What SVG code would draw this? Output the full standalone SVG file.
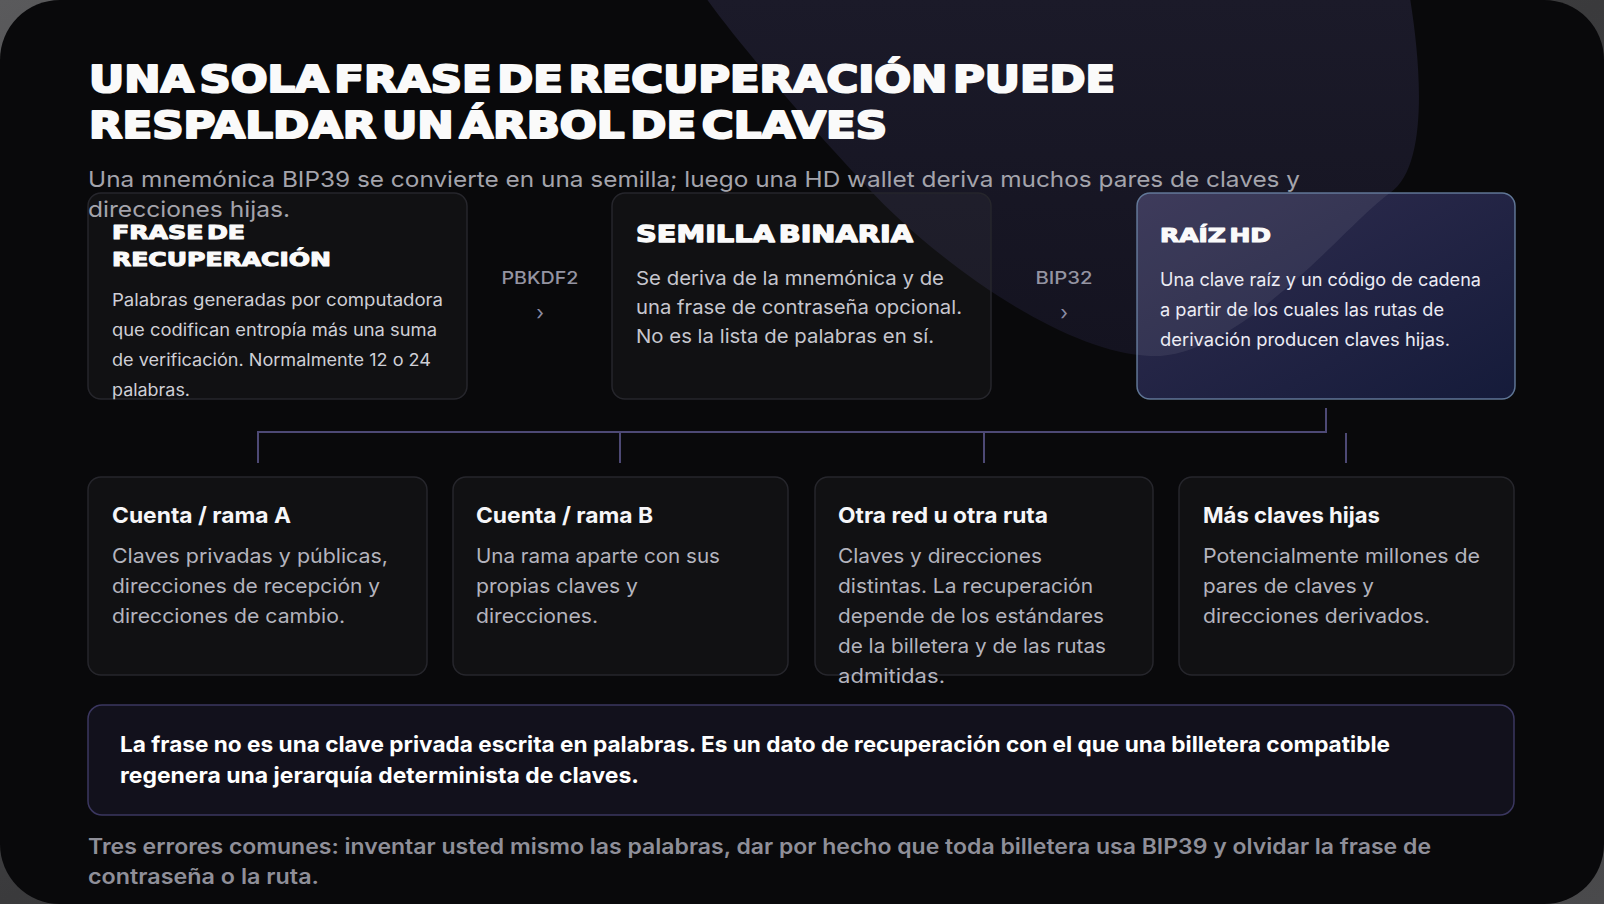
<svg xmlns="http://www.w3.org/2000/svg" width="1604" height="904" viewBox="0 0 1604 904">
<defs>
<style>
.disp{font-family:"DejaVu Sans","Liberation Sans",sans-serif;font-weight:700;fill:#fafafa;stroke:#fafafa;stroke-linejoin:round}
.sans{font-family:Inter,"Noto Sans","Liberation Sans",sans-serif}
.card{fill:#ffffff;fill-opacity:0.035;stroke:#26262c;stroke-width:1.5}
.body1{font-size:17px;fill:#cfcfd6}
.body2{font-size:19px;fill:#c6c6ce}
.body3{font-size:18px;fill:#ececf4}
.rtitle{font-size:22px;font-weight:700;fill:#f6f6f8}
.rbody{font-size:20px;fill:#b4b4be}
.lbl{font-size:17px;font-weight:500;fill:#9494a2}
.chev{font-size:20px;fill:#8c8ca4}
.conn{fill:none;stroke:#4d4975;stroke-width:2}
</style>
<linearGradient id="blob" x1="0" y1="0" x2="0" y2="1">
<stop offset="0" stop-color="#1b1a29"/>
<stop offset="1" stop-color="#141320"/>
</linearGradient>
<linearGradient id="hd" x1="0" y1="0" x2="1" y2="1">
<stop offset="0" stop-color="#302d4f"/>
<stop offset="1" stop-color="#151b3a"/>
</linearGradient>
<linearGradient id="corner" x1="0" y1="0" x2="1" y2="1">
<stop offset="0" stop-color="#5a5a5c"/>
<stop offset="0.5" stop-color="#3a3a3c"/>
<stop offset="1" stop-color="#4a4a4c"/>
</linearGradient>
<clipPath id="hdclip"><rect x="1137" y="193" width="378" height="206" rx="13"/></clipPath>
<path id="blobpath" d="M706,-2 C740,45 800,115 867,187 C934,259 1060,352 1150,356 C1240,360 1350,220 1390,193 C1430,166 1420,60 1410,-2 Z"/>
</defs>

<rect width="1604" height="904" fill="url(#corner)"/>
<rect x="0" y="0" width="1604" height="904" rx="60" fill="#09090b"/>
<use href="#blobpath" fill="url(#blob)"/>

<g id="title">
<text class="disp" x="89" y="92" font-size="37" stroke-width="2.2" word-spacing="-8" textLength="1026" lengthAdjust="spacingAndGlyphs">UNA SOLA FRASE DE RECUPERACIÓN PUEDE</text>
<text class="disp" x="89" y="138" font-size="37" stroke-width="2.2" word-spacing="-8" textLength="798" lengthAdjust="spacingAndGlyphs">RESPALDAR UN ÁRBOL DE CLAVES</text>
</g>

<g id="node-frase">
<rect class="card" x="88" y="193" width="379" height="206" rx="13"/>
<text class="disp" x="112" y="239" font-size="19" stroke-width="1.1" word-spacing="-4" textLength="133" lengthAdjust="spacingAndGlyphs">FRASE DE</text>
<text class="disp" x="112" y="266" font-size="19" stroke-width="1.1" textLength="219" lengthAdjust="spacingAndGlyphs">RECUPERACIÓN</text>
<g class="sans body1">
<text x="112" y="306" textLength="331" lengthAdjust="spacingAndGlyphs">Palabras generadas por computadora</text>
<text x="112" y="336" textLength="325" lengthAdjust="spacingAndGlyphs">que codifican entropía más una suma</text>
<text x="112" y="366" textLength="319" lengthAdjust="spacingAndGlyphs">de verificación. Normalmente 12 o 24</text>
<text x="112" y="396" textLength="78" lengthAdjust="spacingAndGlyphs">palabras.</text>
</g>
</g>

<g id="node-semilla">
<rect class="card" x="612" y="193" width="379" height="206" rx="13"/>
<text class="disp" x="636" y="242" font-size="23" stroke-width="1.3" word-spacing="-5" textLength="277" lengthAdjust="spacingAndGlyphs">SEMILLA BINARIA</text>
<g class="sans body2">
<text x="636" y="285" textLength="308" lengthAdjust="spacingAndGlyphs">Se deriva de la mnemónica y de</text>
<text x="636" y="314" textLength="326" lengthAdjust="spacingAndGlyphs">una frase de contraseña opcional.</text>
<text x="636" y="343" textLength="298" lengthAdjust="spacingAndGlyphs">No es la lista de palabras en sí.</text>
</g>
</g>

<g id="node-raiz">
<rect x="1137" y="193" width="378" height="206" rx="13" fill="url(#hd)"/>
<use href="#blobpath" clip-path="url(#hdclip)" fill="#ffffff" fill-opacity="0.07"/>
<rect x="1137" y="193" width="378" height="206" rx="13" fill="none" stroke="#6c86a8" stroke-opacity="0.85" stroke-width="1.5"/>
<text class="disp" x="1160" y="242" font-size="19" stroke-width="1.1" word-spacing="-4" textLength="111" lengthAdjust="spacingAndGlyphs">RAÍZ HD</text>
<g class="sans body3">
<text x="1160" y="286" textLength="321" lengthAdjust="spacingAndGlyphs">Una clave raíz y un código de cadena</text>
<text x="1160" y="316" textLength="284" lengthAdjust="spacingAndGlyphs">a partir de los cuales las rutas de</text>
<text x="1160" y="346" textLength="290" lengthAdjust="spacingAndGlyphs">derivación producen claves hijas.</text>
</g>
</g>

<g id="connectors">
<g class="sans" text-anchor="middle">
<text class="lbl" x="540" y="284" textLength="77" lengthAdjust="spacingAndGlyphs">PBKDF2</text>
<text class="chev" x="540" y="320">›</text>
<text class="lbl" x="1064" y="284" textLength="57" lengthAdjust="spacingAndGlyphs">BIP32</text>
<text class="chev" x="1064" y="320">›</text>
</g>
<path class="conn" d="M1326,408 V432 H258 V463"/>
<path class="conn" d="M620,432 V463"/>
<path class="conn" d="M984,432 V463"/>
<path class="conn" d="M1346,433 V463"/>
</g>

<g id="node-rama-a">
<rect class="card" x="88" y="477" width="339" height="198" rx="13"/>
<text class="sans rtitle" x="112" y="523" textLength="179" lengthAdjust="spacingAndGlyphs">Cuenta / rama A</text>
<g class="sans rbody">
<text x="112" y="563" textLength="276" lengthAdjust="spacingAndGlyphs">Claves privadas y públicas,</text>
<text x="112" y="593" textLength="268" lengthAdjust="spacingAndGlyphs">direcciones de recepción y</text>
<text x="112" y="623" textLength="233" lengthAdjust="spacingAndGlyphs">direcciones de cambio.</text>
</g>
</g>

<g id="node-rama-b">
<rect class="card" x="453" y="477" width="335" height="198" rx="13"/>
<text class="sans rtitle" x="476" y="523" textLength="177" lengthAdjust="spacingAndGlyphs">Cuenta / rama B</text>
<g class="sans rbody">
<text x="476" y="563" textLength="244" lengthAdjust="spacingAndGlyphs">Una rama aparte con sus</text>
<text x="476" y="593" textLength="162" lengthAdjust="spacingAndGlyphs">propias claves y</text>
<text x="476" y="623" textLength="122" lengthAdjust="spacingAndGlyphs">direcciones.</text>
</g>
</g>

<g id="node-otra-red">
<rect class="card" x="815" y="477" width="338" height="198" rx="13"/>
<text class="sans rtitle" x="838" y="523" textLength="210" lengthAdjust="spacingAndGlyphs">Otra red u otra ruta</text>
<g class="sans rbody">
<text x="838" y="563" textLength="204" lengthAdjust="spacingAndGlyphs">Claves y direcciones</text>
<text x="838" y="593" textLength="255" lengthAdjust="spacingAndGlyphs">distintas. La recuperación</text>
<text x="838" y="623" textLength="266" lengthAdjust="spacingAndGlyphs">depende de los estándares</text>
<text x="838" y="653" textLength="268" lengthAdjust="spacingAndGlyphs">de la billetera y de las rutas</text>
<text x="838" y="683" textLength="107" lengthAdjust="spacingAndGlyphs">admitidas.</text>
</g>
</g>

<g id="node-mas-claves">
<rect class="card" x="1179" y="477" width="335" height="198" rx="13"/>
<text class="sans rtitle" x="1203" y="523" textLength="177" lengthAdjust="spacingAndGlyphs">Más claves hijas</text>
<g class="sans rbody">
<text x="1203" y="563" textLength="277" lengthAdjust="spacingAndGlyphs">Potencialmente millones de</text>
<text x="1203" y="593" textLength="171" lengthAdjust="spacingAndGlyphs">pares de claves y</text>
<text x="1203" y="623" textLength="227" lengthAdjust="spacingAndGlyphs">direcciones derivados.</text>
</g>
</g>

<g id="note">
<rect x="88" y="705" width="1426" height="110" rx="14" fill="#12111c" stroke="#3b3760" stroke-width="1.5"/>
<g class="sans" font-size="22" font-weight="700" fill="#ffffff">
<text x="120" y="752" textLength="1270" lengthAdjust="spacingAndGlyphs">La frase no es una clave privada escrita en palabras. Es un dato de recuperación con el que una billetera compatible</text>
<text x="120" y="783" textLength="519" lengthAdjust="spacingAndGlyphs">regenera una jerarquía determinista de claves.</text>
</g>
</g>

<g id="subtitle" class="sans" font-size="22" fill="#a4a4ac">
<text x="88" y="187" textLength="1212" lengthAdjust="spacingAndGlyphs">Una mnemónica BIP39 se convierte en una semilla; luego una HD wallet deriva muchos pares de claves y</text>
<text x="88" y="217" textLength="202" lengthAdjust="spacingAndGlyphs">direcciones hijas.</text>
</g>

<g id="footer" class="sans" font-size="21" font-weight="600" fill="#8f8f99">
<text x="88" y="854" textLength="1343" lengthAdjust="spacingAndGlyphs">Tres errores comunes: inventar usted mismo las palabras, dar por hecho que toda billetera usa BIP39 y olvidar la frase de</text>
<text x="88" y="884" textLength="231" lengthAdjust="spacingAndGlyphs">contraseña o la ruta.</text>
</g>
</svg>
